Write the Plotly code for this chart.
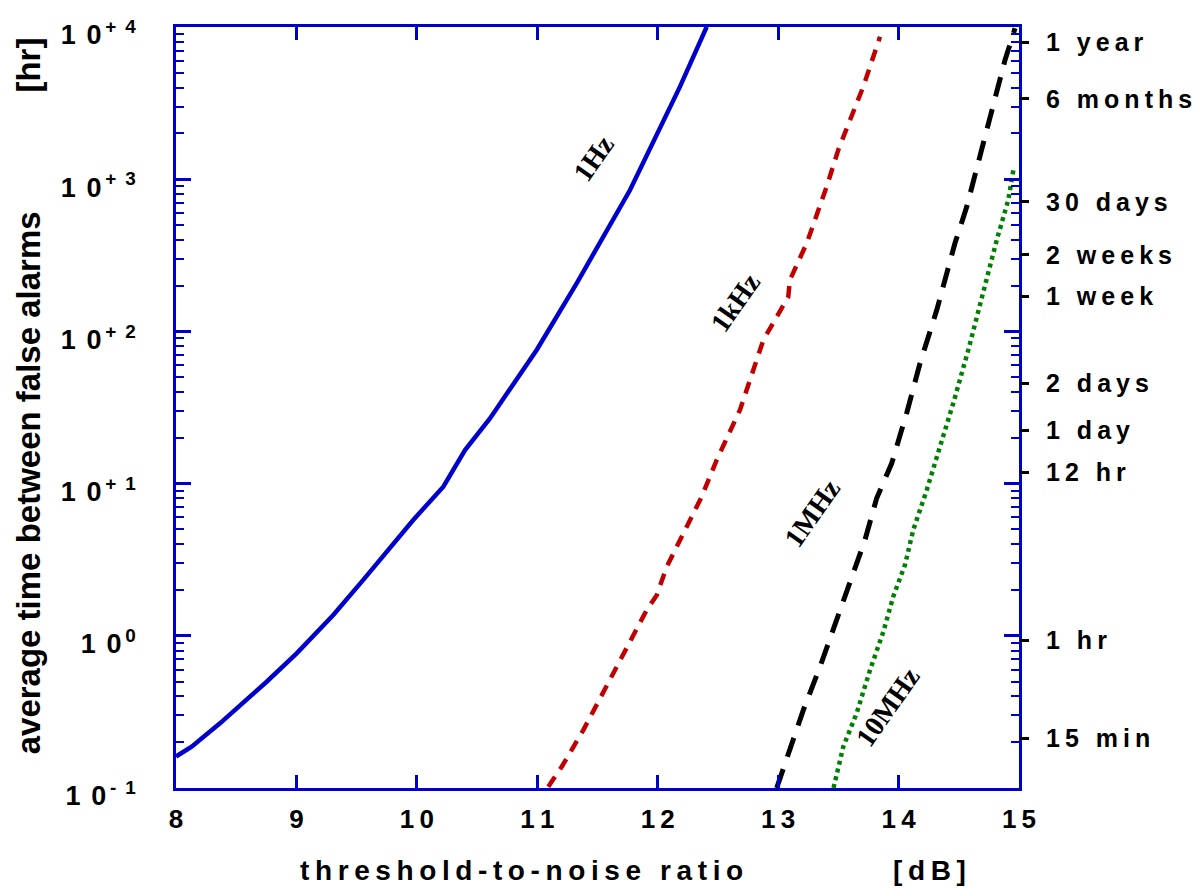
import plotly.graph_objects as go

# ---------------- data ----------------
x_1hz = [8.0, 8.130, 8.365, 8.753, 9.002, 9.306, 9.555, 9.970, 10.220, 10.400,
         10.607, 10.995, 11.327, 11.770, 12.185, 12.407]
y_1hz = [0.161, 0.187, 0.266, 0.499, 0.767, 1.37, 2.33, 5.77, 9.55, 16.6,
         26.8, 75.5, 207, 849, 4055, 10040]

x_1khz = [11.091, 11.203, 11.382, 11.521, 11.673, 11.909, 11.992, 12.075, 12.241,
          12.365, 12.490, 12.683, 12.877, 13.084, 13.098, 13.237, 13.403, 13.499,
          13.597, 13.707, 13.846]
y_1khz = [0.102, 0.138, 0.240, 0.388, 0.659, 1.48, 1.85, 2.84, 5.21,
          8.2, 14.3, 30.5, 87.7, 169, 218, 379, 893, 1556,
          2449, 4055, 8630]

x_1mhz = [12.988, 13.099, 13.209, 13.348, 13.500, 13.583, 13.721, 13.818, 13.943,
          14.067, 14.178, 14.317, 14.468, 14.566, 14.703, 14.801, 14.884, 14.967]
y_1mhz = [0.100, 0.178, 0.325, 0.627, 1.37, 2.21, 4.26, 8.0, 13.6,
          29.0, 61.7, 138, 379, 659, 1722, 3483, 6066, 9800]

x_10mhz = [13.460, 13.541, 13.652, 13.763, 13.873, 13.956, 14.053, 14.122, 14.234,
           14.344, 14.454, 14.579, 14.690, 14.815, 14.911, 14.958]
y_10mhz = [0.100, 0.187, 0.310, 0.596, 1.06, 1.81, 2.92, 4.96, 9.08,
           17.5, 33.7, 75.5, 169, 398, 730, 1208]

x_ticks = [8, 9, 10, 11, 12, 13, 14, 15]
x_tick_labels = ["8", "9", "10", "11", "12", "13", "14", "15"]
y_ticks = [0.1, 1, 10, 100, 1000, 10000]
y_tick_base = ["10", "10", "10", "10", "10", "10"]
y_tick_exp = ["-1", "0", "+1", "+2", "+3", "+4"]
right_hours = [7960, 3365, 711, 318, 169, 45.8, 22.5, 11.8, 0.93, 0.213]
right_labels = ["1 year", "6 months", "30 days", "2 weeks", "1 week",
                "2 days", "1 day", "12 hr", "1 hr", "15 min"]
curve_names = ["1Hz", "1kHz", "1MHz", "10MHz"]
# label anchor positions (x in dB, log10 of hours)
label_x = [11.463, 12.642, 13.289, 13.904]
label_logy = [3.139, 2.193, 0.807, -0.468]

# ---------------- styling ----------------
BLUE = "#0000CC"
TS = "\u2009"  # thin space used to mimic letter spacing
NB = "\u00a0"
SANS = "Liberation Sans, Arial, sans-serif"


def spaced(s, sep=TS):
    return sep.join(NB if ch == " " else ch for ch in s)


def ylabel(base, exp):
    b = spaced(base, TS + TS)
    e = TS + spaced(exp, NB + TS) if len(exp) > 1 else TS + exp
    return b + "<sup>" + e + "</sup>"


minor_vals = [m * 10.0 ** e for e in range(-1, 4) for m in range(2, 10)]

fig = go.Figure()
fig.add_trace(go.Scatter(x=x_1hz, y=y_1hz, mode="lines", name="1Hz",
                         line=dict(color=BLUE, width=4.5)))
fig.add_trace(go.Scatter(x=x_1khz, y=y_1khz, mode="lines", name="1kHz",
                         line=dict(color="#C00000", width=4.5, dash="12px,9px")))
fig.add_trace(go.Scatter(x=x_1mhz, y=y_1mhz, mode="lines", name="1MHz",
                         line=dict(color="black", width=5, dash="20px,13px")))
fig.add_trace(go.Scatter(x=x_10mhz, y=y_10mhz, mode="lines", name="10MHz",
                         line=dict(color="#008000", width=4.5, dash="4px,4px")))
# carrier for the right-hand time axis
fig.add_trace(go.Scatter(x=[None], y=[None], yaxis="y2", showlegend=False,
                         hoverinfo="skip"))

for name, lx, ly in zip(curve_names, label_x, label_logy):
    fig.add_annotation(x=lx, y=ly, xref="x", yref="y", text=name,
                       showarrow=False, textangle=-55,
                       font=dict(family="Liberation Serif, Times New Roman, serif",
                                 size=28, color="black", weight="bold"))

title_font = dict(family=SANS, size=28, color="black", weight="bold")
fig.add_annotation(x=0.4104, y=-0.108, xref="paper", yref="paper",
                   text=spaced("threshold-to-noise ratio"), showarrow=False,
                   font=title_font, xanchor="center", yanchor="middle")
fig.add_annotation(x=0.8944, y=-0.108, xref="paper", yref="paper",
                   text=spaced("[dB]"), showarrow=False,
                   font=title_font, xanchor="center", yanchor="middle")
fig.add_annotation(x=-0.175, y=0.401, xref="paper", yref="paper",
                   text="average time between false alarms", showarrow=False,
                   textangle=-90,
                   font=dict(family=SANS, size=33, color="black", weight="bold"),
                   xanchor="center", yanchor="middle")
fig.add_annotation(x=-0.175, y=0.950, xref="paper", yref="paper",
                   text="[hr]", showarrow=False, textangle=-90,
                   font=dict(family=SANS, size=33, color="black", weight="bold"),
                   xanchor="center", yanchor="middle")

tick_font = dict(family=SANS, size=26, color="black", weight="bold")

# the page body adds an 8px offset, so the figure is 8px smaller
fig.update_layout(
    width=1196, height=880,
    margin=dict(l=168, r=185, t=19, b=100, pad=0),
    plot_bgcolor="white", paper_bgcolor="white",
    showlegend=False,
    xaxis=dict(range=[8, 15], tickvals=x_ticks,
               ticktext=[spaced(t) for t in x_tick_labels],
               ticks="inside", ticklen=13, tickwidth=2.5, tickcolor=BLUE,
               showline=True, linecolor=BLUE, linewidth=2.5, mirror="ticks",
               showgrid=False, zeroline=False, tickfont=tick_font,
               ticklabelstandoff=6, automargin=False),
    yaxis=dict(type="log", range=[-1, 4], tickvals=y_ticks,
               ticktext=[ylabel(b, e) for b, e in zip(y_tick_base, y_tick_exp)],
               ticks="inside", ticklen=15, tickwidth=2.5, tickcolor=BLUE,
               showline=True, linecolor=BLUE, linewidth=2.5, mirror="ticks",
               showgrid=False, zeroline=False,
               tickfont=dict(family=SANS, size=27, color="black", weight="bold"),
               ticklabelstandoff=32, ticklabelshift=8, automargin=False,
               ticklabeloverflow="allow",
               minor=dict(tickvals=minor_vals, ticks="inside", ticklen=8,
                          tickwidth=2, tickcolor=BLUE, showgrid=False)),
    yaxis2=dict(type="log", range=[-1, 4], overlaying="y", side="right",
                tickvals=right_hours, ticktext=[spaced(t) for t in right_labels],
                ticks="outside", ticklen=9, tickwidth=3, tickcolor="black",
                showline=False, showgrid=False, zeroline=False,
                tickfont=dict(family=SANS, size=25, color="black", weight="bold"),
                ticklabelstandoff=12, automargin=False,
                ticklabeloverflow="allow"),
)

fig.write_html("out.html")
